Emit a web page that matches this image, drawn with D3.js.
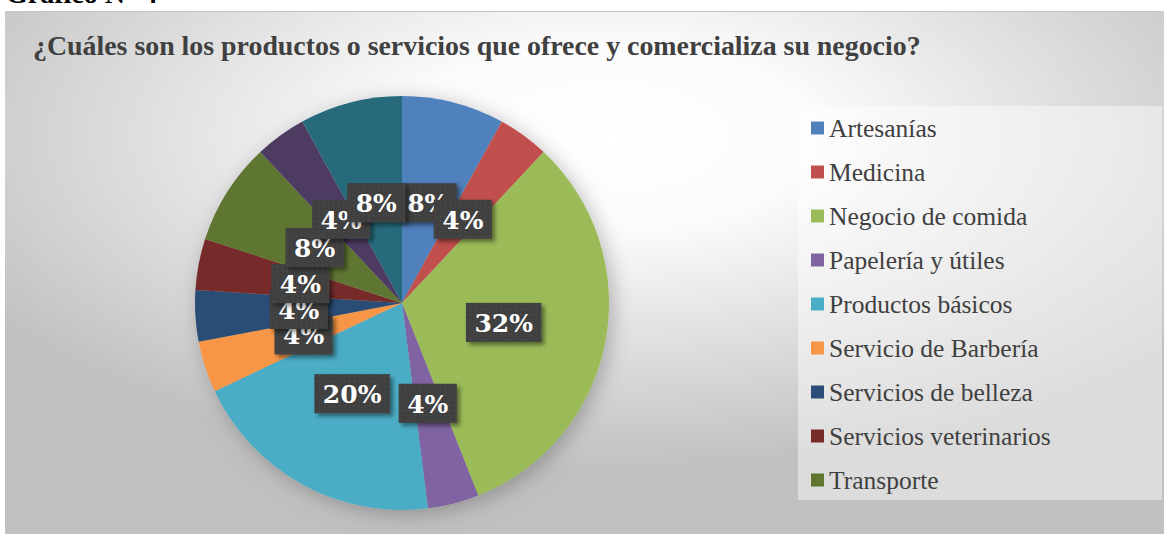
<!DOCTYPE html>
<html>
<head>
<meta charset="utf-8">
<script src="https://cdn.jsdelivr.net/npm/d3@7"></script>
<style>
  body { margin: 0; background: #fff; }
  svg { display: block; }
</style>
</head>
<body>
<div class="chart"></div>
<script>
// data
var categories = ["Artesanías", "Medicina", "Negocio de comida", "Papelería y útiles",
  "Productos básicos", "Servicio de Barbería", "Servicios de belleza",
  "Servicios veterinarios", "Transporte", "Ventas por catálogo", "Otros"]
var values = [8, 4, 32, 4, 20, 4, 4, 4, 8, 4, 8]
var colors = ["#4F81BD", "#C0504D", "#9BBB59", "#8064A2", "#4BACC6", "#F79646",
  "#2C4D75", "#772C2A", "#5F7530", "#4D3B62", "#276A7C"]
var legendShown = 9   // the legend in the picture is cut after 9 entries
var title = "¿Cuáles son los productos o servicios que ofrece y comercializa su negocio?"

var width = 1164,
    height = 534,
    radius = 207

var svg = d3.select(".chart")
  .append("svg")
    .attr("width", width)
    .attr("height", height)

var defs = svg.append("defs")

var bg = defs.append("radialGradient")
    .attr("id", "bg")
    .attr("cx", 0.52).attr("cy", 0.24).attr("r", 0.64)
bg.append("stop").attr("offset", 0).attr("stop-color", "#ffffff")
bg.append("stop").attr("offset", 0.28).attr("stop-color", "#fbfbfb")
bg.append("stop").attr("offset", 1).attr("stop-color", "#c0c0c0")

var dots = defs.append("pattern")
    .attr("id", "dots")
    .attr("width", 5).attr("height", 5)
    .attr("patternUnits", "userSpaceOnUse")
dots.append("rect").attr("width", 5).attr("height", 5).attr("fill", "#3f3f3f")
dots.append("rect").attr("x", 2).attr("y", 2).attr("width", 1).attr("height", 1).attr("fill", "#575757")

var pieShadow = defs.append("filter").attr("id", "pieShadow")
    .attr("x", "-20%").attr("y", "-20%").attr("width", "140%").attr("height", "140%")
pieShadow.append("feDropShadow")
    .attr("dx", 4).attr("dy", 4).attr("stdDeviation", 10)
    .attr("flood-color", "#000").attr("flood-opacity", 0.25)

var boxShadow = defs.append("filter").attr("id", "boxShadow")
    .attr("x", "-30%").attr("y", "-30%").attr("width", "160%").attr("height", "160%")
boxShadow.append("feDropShadow")
    .attr("dx", 3).attr("dy", 3).attr("stdDeviation", 2)
    .attr("flood-color", "#000").attr("flood-opacity", 0.45)

// heading above the chart, mostly cut off by the picture's top edge
svg.append("text")
    .attr("x", 6).attr("y", 3)
    .style("font-family", "Liberation Serif")
    .style("font-size", "28px")
    .style("font-weight", "bold")
    .attr("fill", "#000")
    .text("Gráfico N° 4")

// chart area
svg.append("rect")
    .attr("x", 5).attr("y", 11)
    .attr("width", width - 5).attr("height", height - 11)
    .attr("fill", "url(#bg)")
svg.append("line")
    .attr("x1", 5).attr("x2", width).attr("y1", 11.5).attr("y2", 11.5)
    .attr("stroke", "#c8c8c8")

var titleText = svg.append("text")
    .attr("x", 33).attr("y", 55)
    .style("font-family", "Liberation Serif")
    .style("font-weight", "bold")
    .style("font-size", "24px")
    .attr("fill", "#404040")
    .text(title)
// fit the title to the width it takes in the picture
var tw = titleText.node().getComputedTextLength()
titleText.style("font-size", (24 * 888 / tw) + "px")

// pie
var g = svg.append("g")
    .attr("transform", "translate(402,303)")

var data = categories.map(function(c, i) { return {key: c, value: values[i], color: colors[i]} })

var pie = d3.pie()
    .value(function(d) { return d.value })
    .sort(null)
var data_ready = pie(data)

var arcGenerator = d3.arc()
    .innerRadius(0)
    .outerRadius(radius)

g.append("g")
    .attr("filter", "url(#pieShadow)")
  .selectAll("path")
  .data(data_ready)
  .enter()
  .append("path")
    .attr("d", arcGenerator)
    .attr("fill", function(d) { return d.data.color })

// data labels: dark boxes at half the radius
var total = d3.sum(values)
var labels = g.selectAll(".lbl")
  .data(data_ready)
  .enter()
  .append("g")
    .attr("class", "lbl")
    .attr("transform", function(d) { return "translate(" + arcGenerator.centroid(d) + ")" })

labels.each(function(d) {
  var lg = d3.select(this)
  var box = lg.append("rect")
  var t = lg.append("text")
      .attr("text-anchor", "middle")
      .attr("y", 9.5)
      .style("font-family", "DejaVu Serif")
      .style("font-weight", "bold")
      .style("font-size", "25px")
      .attr("fill", "#fff")
      .text(Math.round(d.data.value / total * 100) + "%")
  var w = t.node().getComputedTextLength() + 17
  box.attr("x", -w / 2).attr("y", -19.5)
      .attr("width", w).attr("height", 39)
      .attr("fill", "url(#dots)")
      .attr("filter", "url(#boxShadow)")
})

// legend
var legend = svg.append("g")
legend.append("rect")
    .attr("x", 798).attr("y", 106)
    .attr("width", 364).attr("height", 394)
    .attr("fill", "#ffffff")
    .attr("fill-opacity", 0.45)

var y = d3.scalePoint()
    .domain(categories.slice(0, legendShown))
    .range([128, 480])

var item = legend.selectAll(".item")
  .data(data.slice(0, legendShown))
  .enter()
  .append("g")
    .attr("class", "item")
    .attr("transform", function(d) { return "translate(811," + y(d.key) + ")" })

item.append("rect")
    .attr("x", 0).attr("y", -6.5)
    .attr("width", 13).attr("height", 13)
    .attr("fill", function(d) { return d.color })

item.append("text")
    .attr("x", 18).attr("y", 8.5)
    .style("font-family", "Liberation Serif")
    .style("font-size", "25.5px")
    .attr("fill", "#404040")
    .text(function(d) { return d.key })
</script>
</body>
</html>
